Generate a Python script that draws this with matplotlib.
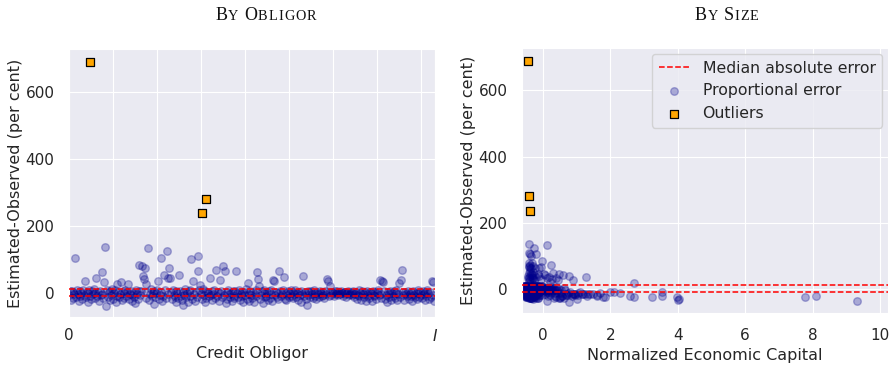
import matplotlib
matplotlib.use("Agg")
import matplotlib.pyplot as plt
import numpy as np
import seaborn as sns

# proportional error (estimated - observed, per cent), one value per credit obligor
error = [
    -8, 4, -22, 6, -15, 2, -5, 105, -12, 8, -3, -25, 5, -10, 0, -18,
    7, -6, 34, -14, 3, -28, -2, 9, -9, -20, 5, -4, 11, -16, -1, 44,
    -11, 2, -24, 6, -7, 62, -3, -17, 31, 137, -39, 8, -13, 1, -21, 4,
    -6, 10, -19, -2, 7, -27, 26, -9, 3, -14, -4, 31, -23, 6, -1, -16,
    9, -11, 2, 27, -20, -5, 5, -8, -26, 0, -13, -32, 8, -3, -18, 4,
    83, -7, 6, 79, 49, 41, 73, 27, -15, 3, 133, -22, -4, 10, -10, -1,
    -33, 5, -12, -2, 8, 36, -19, -6, 2, 104, -25, -9, 52, 7, -16, 125,
    45, -4, 73, 45, 1, -20, 9, -8, -13, -27, 4, -2, -17, 53, 6, -11,
    -23, 3, -37, -6, 11, -14, -1, -29, 5, -9, 8, 100, -18, 36, -3, -24,
    2, -12, 66, 110, 7, 23, -5, -20, 10, -8, -28, 4, -15, 1, -2, -10,
    43, -6, 6, -21, -3, 9, -16, 68, -11, 3, -26, -1, 39, 5, -14, 79,
    -7, 66, -32, 2, -19, 8, -4, -12, 0, -25, 6, -9, -17, 4, 64, -2,
    -13, 7, -22, -5, 3, -10, -29, 1, -7, 10, -18, 29, -3, -24, 5, -8,
    -15, 2, -27, -4, 8, -11, 63, 41, 21, -19, -6, 4, -30, -2, 7, -14,
    -9, 1, -21, 6, -16, -3, 9, -25, 38, 34, -7, 3, -12, -1, -20, 64,
    5, -10, -4, 8, 46, -18, 0, -23, -6, 4, -13, -2, 7, -9, -17, 2,
    -5, 9, -14, -1, -22, 3, -8, 6, -28, -3, 49, -11, 1, -19, -36, 5,
    -7, 2, -12, 4, -3, -16, 7, -9, 0, -20, 3, -5, -13, 6, -2, -10,
    1, -8, -15, 5, -4, 41, 36, -11, 2, 19, -6, 3, -1, -9, 4, -3,
    -2, 5, -7, 1, -4, 6, -1, -9, 3, -5, 2, -12, 0, 4, -6, -3,
    3, -8, -1, 5, -14, -3, 2, -18, -6, 7, -10, 0, -22, 4, -5, -13,
    1, -26, -4, 6, -9, -17, 2, -2, -24, 5, -11, -7, 3, -20, -1, 8,
    -6, 38, -15, -3, 35, 33, 4, -19, -8, -27, 2, -12, -4, 6, -22, -1,
    -10, 5, -16, -2, 7, -23, -5, 30, -13, 39, 68, 3, -8, -21, 1, -4,
    -11, 6, -18, -3, 2, -9, -25, 4, -6, -14, 0, -20, 7, -2, -12, 3,
    -7, -16, 5, -4, -23, 1, -10, 8, -2, -19, 3, -13, 34, 33, -6, -26,
]

# normalized economic capital of the same obligors
capital = [
    -0.52, -0.18, 0.15, -0.47, -0.30, 0.62, -0.08, -0.39, -0.55, -0.12, 0.35, -0.25, -0.41, 1.10, -0.50, -0.02,
    -0.33, -0.49, -0.41, 0.05, -0.21, 0.52, -0.44, -0.15, -0.53, 0.85, -0.36, -0.05, -0.28, -0.46, 0.20, 0.48,
    -0.48, -0.26, 0.40, -0.11, -0.54, -0.12, -0.38, 1.62, -0.31, -0.41, 0.78, -0.19, -0.45, -0.03, -0.51, 0.08,
    -0.35, -0.50, -0.23, 0.28, -0.42, -0.14, 0.90, -0.52, -0.06, 0.70, -0.29, 0.26, -0.47, -0.15, -0.37, 1.20,
    -0.55, -0.32, 0.12, 0.45, -0.46, -0.20, -0.10, -0.49, 0.33, -0.27, -0.40, 1.00, -0.17, 0.55, -0.43, -0.52,
    -0.04, -0.47, -0.24, -0.40, 0.31, 0.60, 0.23, -0.27, 1.50, -0.53, 0.11, -0.13, 0.18, -0.36, -0.01, -0.50,
    4.02, -0.45, -0.22, 0.42, -0.51, 1.28, -0.34, -0.07, -0.43, -0.19, 3.24, -0.49, -0.28, -0.16, 0.95, -0.27,
    0.02, -0.54, -0.38, -0.36, -0.29, 3.52, -0.47, -0.12, 0.25, -0.40, -0.52, 0.65, -0.20, -0.37, -0.10, -0.44,
    -0.50, -0.09, 0.11, -0.42, -0.26, 1.40, -0.55, -0.33, -0.04, 0.15, -0.46, -0.36, -0.18, -0.33, -0.49, 2.70,
    -0.39, -0.52, -0.07, -0.40, 0.38, -0.42, -0.16, -0.48, -0.26, 0.80, -0.35, -0.06, -0.53, 0.10, -0.23, -0.44,
    -0.25, -0.51, -0.30, 0.58, -0.11, -0.45, -0.37, -0.42, -0.54, 0.30, -0.21, -0.41, 0.78, -0.02, 1.15, -0.33,
    -0.48, -0.41, -0.30, -0.14, 0.22, -0.53, -0.38, -0.27, 0.48, 1.77, -0.46, -0.18, -0.09, -0.50, -0.35, 0.05,
    2.28, -0.43, 2.58, -0.52, -0.19, 2.00, -0.36, -0.27, -0.47, -0.04, 0.68, -0.39, -0.55, -0.24, 0.14, -0.44,
    1.35, -0.49, -0.13, -0.32, -0.53, 0.36, -0.39, -0.31, 0.20, -0.42, -0.08, -0.47, 4.05, -0.26, -0.51, 0.88,
    -0.45, -0.17, -0.52, 0.25, -0.34, -0.48, -0.03, 0.50, -0.10, 0.38, -0.40, -0.22, 1.05, -0.54, -0.31, -0.22,
    -0.41, -0.50, 0.40, -0.28, -0.15, -0.46, -0.11, 7.77, -0.53, -0.37, 0.75, -0.44, -0.20, 0.12, -0.48, -0.33,
    -0.43, -0.55, 1.25, -0.06, -0.47, -0.30, -0.51, -0.25, 0.62, -0.40, -0.40, -0.14, -0.49, 0.95, 9.33, -0.36,
    -0.46, -0.52, -0.23, -0.39, 0.18, -0.43, -0.10, -0.50, -0.34, 1.60, -0.45, -0.28, 0.45, -0.54, -0.05, -0.41,
    -0.48, -0.31, 0.82, -0.44, -0.19, 0.05, 0.18, -0.52, -0.38, 2.70, -0.47, -0.13, 0.28, -0.42, -0.55, -0.26,
    -0.45, -0.39, -0.50, -0.21, 0.08, -0.46, -0.33, -0.53, -0.07, -0.41, -0.48, 0.55, -0.36, -0.44, -0.17, -0.51,
    -0.43, 2.10, -0.49, -0.29, -0.54, -0.40, -0.12, 1.05, -0.46, -0.35, 3.52, -0.50, 0.35, -0.24, -0.45, -0.39,
    -0.47, 0.48, -0.42, -0.52, -0.27, -0.38, -0.49, -0.09, 1.85, -0.44, -0.55, 0.20, -0.32, 8.09, -0.46, -0.15,
    -0.50, -0.44, -0.33, -0.47, -0.20, -0.43, -0.23, 0.72, -0.53, -0.39, -0.45, 0.15, -0.48, -0.06, 1.32, -0.41,
    -0.44, -0.51, -0.18, 0.10, -0.47, -0.36, -0.54, -0.05, -0.29, -0.38, -0.30, -0.42, -0.49, 0.58, -0.14, -0.45,
    -0.52, -0.40, -0.25, 0.32, -0.46, -0.37, -0.50, -0.11, -0.43, 0.92, -0.55, -0.30, -0.47, -0.21, -0.41, 0.22,
    -0.49, -0.34, -0.44, -0.53, 3.98, -0.16, -0.46, -0.40, 0.16, -0.51, -0.27, 1.70, -0.29, 0.12, -0.48, -0.38,
]

# outlying obligors
outlier_obligor = [24, 151, 156]
outlier_capital = [-0.45, -0.37, -0.41]
outlier_error = [690, 237, 281]

# median absolute error band
mae_upper = 12
mae_lower = -10

n_obligors = 416
ylim = (-73, 728)

sns.set_style("darkgrid")
plt.rcParams["font.family"] = ["DejaVu Sans"]

obligor = np.arange(len(error))

fig = plt.figure(figsize=(8.93, 3.67), dpi=100)
ax1 = fig.add_axes([0.0773, 0.136, 0.41, 0.730])
ax2 = fig.add_axes([0.5845, 0.147, 0.41, 0.722])

pt_style = dict(s=30, color="darkblue", alpha=0.28, linewidths=1.0)
out_style = dict(s=26, marker="s", color="orange", edgecolors="black", linewidths=0.9, zorder=4)
line_style = dict(color="red", linestyle="--", linewidth=1.1, zorder=3)

# left: error against obligor
ax1.axhline(mae_upper, **line_style)
ax1.axhline(mae_lower, **line_style)
ax1.scatter(obligor, error, **pt_style)
ax1.scatter(outlier_obligor, outlier_error, **out_style)
ax1.set_xlim(0, n_obligors)
ticks = list(range(0, 401, 50)) + [n_obligors]
ax1.set_xticks(ticks)
ax1.set_xticklabels(["0"] + [""] * 8 + ["$I$"])
ax1.set_xlabel("Credit Obligor", fontsize=11.5, labelpad=2)

# right: error against economic capital
ax2.axhline(mae_upper, label="Median absolute error", **line_style)
ax2.axhline(mae_lower, **line_style)
ax2.scatter(capital, error, label="Proportional error", **pt_style)
ax2.scatter(outlier_capital, outlier_error, label="Outliers", **out_style)
ax2.set_xlim(-0.62, 10.24)
ax2.set_xticks([0, 2, 4, 6, 8, 10])
ax2.set_xlabel("Normalized Economic Capital", fontsize=11.5)
ax2.legend(loc="upper right", fontsize=11.3, borderaxespad=0.4)

for ax in (ax1, ax2):
    ax.set_ylim(*ylim)
    ax.set_yticks([0, 200, 400, 600])
    ax.set_ylabel("Estimated-Observed (per cent)", fontsize=11.5, labelpad=1.5)
    ax.tick_params(labelsize=11, pad=7)
ax1.tick_params(axis="x", pad=4)


def smallcaps(fig, xc, y, words, big=13, small=10.3, track=0.9):
    """Write a title in small capitals, centred at xc (figure fraction)."""
    renderer = fig.canvas.get_renderer()
    parts = []
    for k, w in enumerate(words.split()):
        if k:
            parts.append((" ", big))
        parts.append((w[0], big))
        for ch in w[1:].upper():
            parts.append((ch, small))
    texts, widths = [], []
    for ch, size in parts:
        t = fig.text(0, y, ch, fontsize=size, family="Liberation Serif",
                     color="#111111", va="baseline")
        if ch == " ":
            w = size * 0.3
        else:
            w = t.get_window_extent(renderer).width
        texts.append(t)
        widths.append(w + track)
    total = sum(widths)
    x = xc * fig.bbox.width - total / 2
    for t, w in zip(texts, widths):
        t.set_x(x / fig.bbox.width)
        x += w


fig.canvas.draw()
smallcaps(fig, 266 / 893, 1 - 20 / 367, "By Obligor")
smallcaps(fig, 727 / 893, 1 - 20 / 367, "By Size")

fig.savefig("out.png", dpi=100)
